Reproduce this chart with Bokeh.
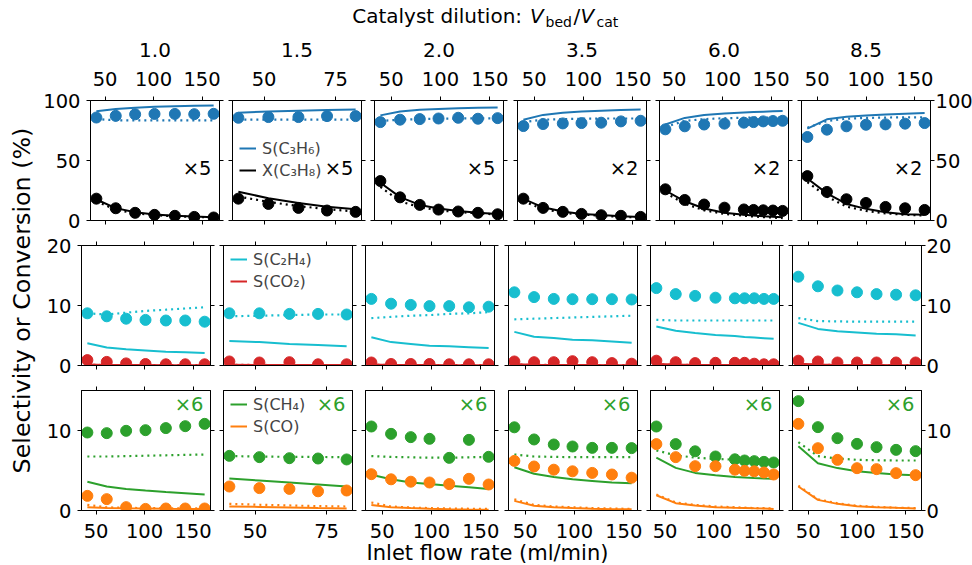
import numpy as np
from bokeh.plotting import figure
from bokeh.layouts import row, column
from bokeh.models import Range1d, LinearAxis, FixedTicker, Label, Legend, LegendItem
from bokeh.embed import file_html
from bokeh.resources import INLINE

FONT = "DejaVu Sans"

# ---------------- data ----------------
dilution = ["1.0", "1.5", "2.0", "3.5", "6.0", "8.5"]
conv_factor = ["×5", "×5", "×5", "×2", "×2", "×2"]
ch4_factor = "×6"

flow = [
    [41, 61, 81, 101, 122, 142, 162],
    [41, 51.5, 62, 72, 82],
    [39, 59, 79, 98, 118, 138, 158],
    [39, 59, 79, 98, 118, 138, 158],
    [41, 61, 81, 102, 122, 132, 142, 152, 162],
    [40, 60, 80, 100, 120, 140, 160],
]
x_ticks = [[50, 100, 150], [50, 75], [50, 100, 150], [50, 100, 150], [50, 100, 150], [50, 100, 150]]
y_ticks = [[0, 50, 100], [0, 10, 20], [0, 10]]
y_limits = [(0, 100), (0, 20), (0, 15)]

# S(C3H6): experiment, model (solid), model (dotted)
c3h6_exp = [
    [85.8, 87.2, 88.5, 88.8, 88.8, 88.6, 88.9],
    [85.6, 86.2, 86.2, 87.0, 87.0],
    [82.0, 84.0, 84.5, 85.0, 85.6, 84.8, 85.3],
    [78.7, 80.4, 80.9, 81.2, 81.5, 82.6, 83.1],
    [76.0, 78.5, 80.0, 80.7, 81.5, 82.0, 82.6, 82.9, 83.1],
    [69.6, 75.7, 78.5, 79.8, 80.1, 80.7, 81.2],
]
c3h6_mod = [
    [91.0, 93.0, 94.0, 94.7, 95.2, 95.6, 95.9],
    [89.8, 90.8, 91.5, 92.0, 92.5],
    [87.6, 90.8, 92.2, 93.0, 93.5, 93.9, 94.2],
    [84.0, 88.0, 89.8, 90.8, 91.5, 92.0, 92.4],
    [80.0, 85.5, 88.0, 89.2, 90.0, 90.4, 90.7, 91.0, 91.2],
    [76.5, 84.3, 86.5, 87.5, 88.3, 89.0, 89.5],
]
c3h6_mod2 = [
    [84.5, 83.5, 83.4, 83.4, 83.4, 83.4, 83.4],
    [84.0, 84.0, 84.0, 84.0, 84.0],
    [83.0, 84.0, 84.5, 84.8, 85.0, 85.1, 85.2],
    [82.0, 84.0, 84.5, 84.8, 85.0, 85.0, 85.0],
    [78.0, 83.0, 84.5, 85.2, 85.6, 85.7, 85.8, 85.9, 86.0],
    [77.3, 82.9, 84.8, 85.5, 85.8, 86.0, 86.0],
]
# X(C3H8) (scaled as plotted)
c3h8_exp = [
    [18.2, 10.2, 6.4, 4.7, 3.9, 3.0, 2.5],
    [18.2, 13.8, 10.5, 8.3, 7.2],
    [32.9, 19.3, 13.0, 9.1, 7.5, 6.4, 5.2],
    [18.2, 10.5, 7.2, 5.5, 4.4, 3.9, 3.0],
    [26.0, 17.1, 13.3, 10.7, 9.2, 8.8, 8.5, 8.3, 8.0],
    [37.0, 23.8, 17.7, 14.6, 11.3, 10.2, 8.8],
]
c3h8_mod = [
    [17.5, 10.3, 6.8, 5.0, 4.0, 3.3, 2.8],
    [24.0, 18.5, 14.5, 11.5, 9.4],
    [31.5, 19.5, 13.0, 10.0, 8.0, 6.5, 5.5],
    [18.0, 11.0, 7.5, 5.5, 4.5, 3.5, 3.0],
    [25.0, 16.0, 10.0, 6.5, 4.8, 4.2, 3.6, 3.1, 2.7],
    [35.0, 22.6, 13.8, 9.7, 6.9, 5.2, 4.7],
]
c3h8_mod2 = [
    [16.0, 9.0, 6.0, 4.5, 3.5, 3.0, 2.5],
    [20.0, 15.5, 12.0, 9.5, 7.5],
    [28.0, 16.0, 11.0, 8.5, 7.0, 6.0, 5.0],
    [16.0, 9.5, 6.5, 5.0, 4.0, 3.0, 2.5],
    [23.0, 14.0, 8.5, 5.5, 4.0, 3.3, 2.8, 2.4, 2.0],
    [32.0, 19.9, 11.6, 8.0, 6.0, 4.7, 4.1],
]
# S(C2H4)
c2h4_exp = [
    [8.7, 8.2, 7.8, 7.6, 7.5, 7.5, 7.3],
    [8.7, 8.7, 8.6, 8.6, 8.5],
    [11.1, 10.3, 10.1, 9.9, 9.9, 9.7, 9.8],
    [12.2, 11.4, 11.1, 11.05, 11.05, 11.05, 11.0],
    [12.9, 11.9, 11.6, 11.3, 11.2, 11.2, 11.2, 11.1, 11.1],
    [14.8, 13.2, 12.5, 12.2, 11.9, 11.8, 11.7],
]
c2h4_mod = [
    [3.7, 3.0, 2.7, 2.5, 2.3, 2.2, 2.1],
    [4.1, 3.9, 3.6, 3.4, 3.2],
    [4.7, 3.9, 3.6, 3.3, 3.2, 3.05, 2.9],
    [5.6, 4.8, 4.6, 4.3, 4.2, 4.0, 3.8],
    [6.5, 5.8, 5.4, 5.1, 4.9, 4.75, 4.65, 4.55, 4.45],
    [7.1, 6.1, 5.7, 5.5, 5.3, 5.2, 5.0],
]
c2h4_mod2 = [
    [8.7, 8.5, 8.8, 9.1, 9.3, 9.5, 9.7],
    [8.2, 8.3, 8.4, 8.5, 8.5],
    [7.9, 8.1, 8.3, 8.4, 8.6, 8.7, 8.9],
    [7.7, 7.8, 7.9, 8.0, 8.1, 8.2, 8.3],
    [7.6, 7.5, 7.5, 7.5, 7.5, 7.5, 7.5, 7.5, 7.5],
    [7.9, 7.4, 7.35, 7.3, 7.3, 7.3, 7.3],
]
# S(CO2)
co2_exp = [
    [0.9, 0.6, 0.35, 0.25, 0.2, 0.2, 0.2],
    [0.67, 0.5, 0.55, 0.2, 0.2],
    [0.5, 0.25, 0.25, 0.25, 0.2, 0.2, 0.2],
    [0.67, 0.55, 0.55, 0.72, 0.55, 0.4, 0.3],
    [0.8, 0.55, 0.4, 0.45, 0.45, 0.45, 0.3, 0.2, 0.2],
    [0.8, 0.67, 0.5, 0.5, 0.5, 0.5, 0.5],
]
co2_mod = [
    [0.15, 0.1, 0.08, 0.07, 0.06, 0.05, 0.05],
    [0.12, 0.1, 0.09, 0.08, 0.07],
    [0.15, 0.1, 0.08, 0.07, 0.06, 0.05, 0.05],
    [0.2, 0.12, 0.1, 0.08, 0.07, 0.06, 0.05],
    [0.25, 0.15, 0.1, 0.08, 0.07, 0.06, 0.06, 0.05, 0.05],
    [0.3, 0.15, 0.1, 0.08, 0.07, 0.06, 0.05],
]
co2_mod2 = [
    [0.1, 0.08, 0.07, 0.06, 0.05, 0.05, 0.05],
    [0.1, 0.09, 0.08, 0.07, 0.06],
    [0.12, 0.08, 0.07, 0.06, 0.05, 0.05, 0.05],
    [0.15, 0.1, 0.08, 0.07, 0.06, 0.05, 0.05],
    [0.2, 0.12, 0.09, 0.07, 0.06, 0.06, 0.05, 0.05, 0.05],
    [0.25, 0.12, 0.09, 0.07, 0.06, 0.05, 0.05],
]
# S(CH4) (scaled as plotted)
ch4_exp = [
    [9.75, 9.67, 9.96, 10.04, 10.3, 10.54, 10.83],
    [6.83, 6.67, 6.54, 6.5, 6.38],
    [10.5, 9.58, 9.17, 8.96, 6.58, 8.83, 6.71],
    [10.4, 8.88, 8.25, 8.0, 7.83, 7.83, 7.8],
    [10.5, 8.3, 7.4, 6.75, 6.4, 6.25, 6.17, 6.08, 6.0],
    [13.67, 10.42, 9.04, 8.33, 7.92, 7.58, 7.42],
]
ch4_mod = [
    [3.6, 3.0, 2.7, 2.5, 2.3, 2.15, 2.0],
    [4.0, 3.75, 3.5, 3.25, 3.0],
    [4.46, 3.9, 3.5, 3.3, 3.1, 2.9, 2.7],
    [5.4, 4.6, 4.2, 3.9, 3.7, 3.5, 3.4],
    [6.6, 5.33, 4.7, 4.4, 4.2, 4.12, 4.05, 4.0, 3.96],
    [8.04, 5.9, 5.3, 4.9, 4.7, 4.5, 4.4],
]
ch4_mod2 = [
    [6.75, 6.75, 6.8, 6.85, 6.9, 6.95, 7.0],
    [6.8, 6.75, 6.7, 6.7, 6.65],
    [6.8, 6.7, 6.65, 6.6, 6.6, 6.65, 6.7],
    [7.0, 6.75, 6.7, 6.67, 6.67, 6.67, 6.67],
    [7.5, 6.9, 6.6, 6.45, 6.35, 6.35, 6.33, 6.33, 6.33],
    [8.54, 6.8, 6.5, 6.33, 6.28, 6.25, 6.25],
]
# S(CO)
co_exp = [
    [1.83, 1.42, 0.42, 0.2, 0.25, 0.25, 0.25],
    [3.0, 2.8, 2.7, 2.4, 2.5],
    [4.54, 3.9, 3.6, 3.5, 3.3, 3.96, 3.25],
    [6.2, 5.5, 5.1, 4.9, 4.7, 4.5, 4.1],
    [8.3, 6.67, 5.54, 5.54, 5.1, 4.96, 4.9, 4.75, 4.5],
    [10.83, 7.79, 6.33, 5.29, 5.17, 4.67, 4.42],
]
co_mod = [
    [0.4, 0.3, 0.27, 0.25, 0.22, 0.2, 0.2],
    [0.5, 0.45, 0.38, 0.3, 0.25],
    [0.7, 0.4, 0.3, 0.22, 0.17, 0.13, 0.1],
    [1.2, 0.6, 0.4, 0.3, 0.22, 0.17, 0.15],
    [1.9, 0.92, 0.63, 0.42, 0.33, 0.3, 0.27, 0.25, 0.2],
    [3.0, 1.33, 0.83, 0.54, 0.42, 0.33, 0.25],
]
co_mod2 = [
    [0.7, 0.4, 0.33, 0.3, 0.28, 0.26, 0.25],
    [0.83, 0.72, 0.63, 0.55, 0.5],
    [1.0, 0.5, 0.37, 0.3, 0.25, 0.22, 0.2],
    [1.4, 0.7, 0.5, 0.4, 0.3, 0.25, 0.2],
    [2.0, 1.0, 0.7, 0.5, 0.4, 0.35, 0.3, 0.3, 0.25],
    [3.1, 1.4, 0.9, 0.6, 0.45, 0.35, 0.3],
]

# ---------------- styling / layout ----------------
BLUE, ORANGE, GREEN, RED, CYAN, BLACK = "#1f77b4", "#ff7f0e", "#2ca02c", "#d62728", "#17becf", "#000000"

rows_spec = [
    [("S(C₃H₆)", BLUE, c3h6_exp, c3h6_mod, c3h6_mod2), ("X(C₃H₈)", BLACK, c3h8_exp, c3h8_mod, c3h8_mod2)],
    [("S(C₂H₄)", CYAN, c2h4_exp, c2h4_mod, c2h4_mod2), ("S(CO₂)", RED, co2_exp, co2_mod, co2_mod2)],
    [("S(CH₄)", GREEN, ch4_exp, ch4_mod, ch4_mod2), ("S(CO)", ORANGE, co_exp, co_mod, co_mod2)],
]

FW, FH = 129, 120
BL = [41, 7, 7, 7, 7, 7]
BR = [6, 6, 7, 6, 6, 51]
TOP_H, LEFT_W = 33, 40
BT = [67, 13, 13]
BB = [12, 12, 31]
MID_H = sum(BT) + sum(BB) + 3 * FH
BOT_H = 565 - TOP_H - MID_H
TICK_FS = "19.5px"


def x_limits(xs):
    lo, hi = min(xs), max(xs)
    m = 0.05 * (hi - lo)
    return lo - m, hi + m


def make_axis(ticks, show, label=None, standoff=6):
    ax = LinearAxis(ticker=FixedTicker(ticks=ticks, minor_ticks=[]))
    ax.axis_line_color = "black"
    ax.major_tick_line_color = "black"
    ax.major_tick_out = 4
    ax.major_tick_in = 0
    ax.minor_tick_line_color = None
    if show:
        ax.major_label_text_font = FONT
        ax.major_label_text_font_size = TICK_FS
        ax.major_label_text_color = "black"
        ax.major_label_standoff = standoff
    else:
        ax.major_label_text_font_size = "0px"
        ax.major_label_standoff = 0
        ax.major_label_text_alpha = 0
    if label is not None:
        ax.axis_label = label
        ax.axis_label_text_font = FONT
        ax.axis_label_text_font_size = "20px"
        ax.axis_label_text_font_style = "normal"
        ax.axis_label_text_color = "black"
        ax.axis_label_standoff = 12
    return ax


grid_rows = []
for r in range(3):
    figs = []
    for c in range(6):
        xs = flow[c]
        p = figure(frame_width=FW, frame_height=FH,
                   x_range=Range1d(*x_limits(xs)), y_range=Range1d(*y_limits[r]),
                   x_axis_location=None, y_axis_location=None,
                   toolbar_location=None, output_backend="svg",
                   min_border_left=BL[c], min_border_right=BR[c],
                   min_border_top=BT[r], min_border_bottom=BB[r])
        p.grid.grid_line_color = None
        p.outline_line_color = "black"
        p.outline_line_width = 1
        p.background_fill_color = "white"
        p.border_fill_color = "white"

        p.add_layout(make_axis(x_ticks[c], r == 0, dilution[c] if r == 0 else None, standoff=11), "above")
        p.add_layout(make_axis(x_ticks[c], r == 2, standoff=9), "below")
        p.add_layout(make_axis(y_ticks[r], c == 0, standoff=6), "left")
        p.add_layout(make_axis(y_ticks[r], c == 5, standoff=1), "right")

        items = []
        for name, color, exp, mod, mod2 in rows_spec[r]:
            rs = p.line(xs, mod[c], line_color=color, line_width=2)
            p.line(xs, mod2[c], line_color=color, line_width=2.2, line_dash="2 4")
            items.append(LegendItem(label=name, renderers=[rs]))
        for name, color, exp, mod, mod2 in rows_spec[r]:
            p.scatter(xs, exp[c], size=11, fill_color=color, line_color=color, marker="circle")

        if c == 1:
            leg = Legend(items=items, location=(7, 40 if r == 0 else 74),
                         border_line_color=None, background_fill_alpha=0,
                         padding=0, margin=0, spacing=2, glyph_width=17, glyph_height=20,
                         label_height=20, label_standoff=6, label_text_font=FONT,
                         label_text_font_size="16px", label_text_baseline="middle")
            p.add_layout(leg)

        if r == 0:
            p.add_layout(Label(x=FW - 8, y=52, x_units="screen", y_units="screen", text=conv_factor[c],
                               text_align="right", text_baseline="middle", text_font=FONT,
                               text_font_size="19.5px", text_color="black"))
        if r == 2:
            p.add_layout(Label(x=FW - 7, y=106, x_units="screen", y_units="screen", text=ch4_factor,
                               text_align="right", text_baseline="middle", text_font=FONT,
                               text_font_size="19.5px", text_color=GREEN))
        figs.append(p)
    grid_rows.append(row(*figs, spacing=0))

grid = column(*grid_rows, spacing=0)


def strip(w, h):
    s = figure(width=w, height=h, x_range=Range1d(0, w), y_range=Range1d(0, h),
               x_axis_location=None, y_axis_location=None, toolbar_location=None,
               output_backend="svg", min_border=0, min_border_left=0, min_border_right=0,
               min_border_top=0, min_border_bottom=0)
    s.grid.grid_line_color = None
    s.outline_line_color = None
    s.background_fill_color = "white"
    s.border_fill_color = "white"
    return s


top = strip(972, TOP_H)
# (text, left x, centre y from the strip top, size, style)
pieces = [
    ("Catalyst dilution:", 351.7, 15, "20px", "normal"),
    ("V", 529.5, 15, "20px", "italic"),
    ("bed", 545.0, 21, "14px", "normal"),
    ("/", 573.0, 15, "20px", "normal"),
    ("V", 580.0, 15, "20px", "italic"),
    ("cat", 596.0, 21, "14px", "normal"),
]
for txt, px, py, fs, st in pieces:
    top.add_layout(Label(x=px, y=TOP_H - py, text=txt, text_align="left", text_baseline="middle",
                         text_font=FONT, text_font_size=fs, text_font_style=st, text_color="black"))

left = strip(LEFT_W, MID_H)
left.add_layout(Label(x=21, y=MID_H - (300 - TOP_H), text="Selectivity or Conversion (%)", angle=np.pi / 2,
                      text_align="center", text_baseline="middle", text_font=FONT,
                      text_font_size="23.8px", text_color="black"))

bottom = strip(972, BOT_H)
bottom.add_layout(Label(x=487, y=BOT_H - (552 - TOP_H - MID_H), text="Inlet flow rate (ml/min)",
                        text_align="center", text_baseline="middle", text_font=FONT,
                        text_font_size="21px", text_color="black"))

layout = column(top, row(left, grid, spacing=0), bottom, spacing=0)

open("out.html", "w").write(file_html(layout, INLINE))
